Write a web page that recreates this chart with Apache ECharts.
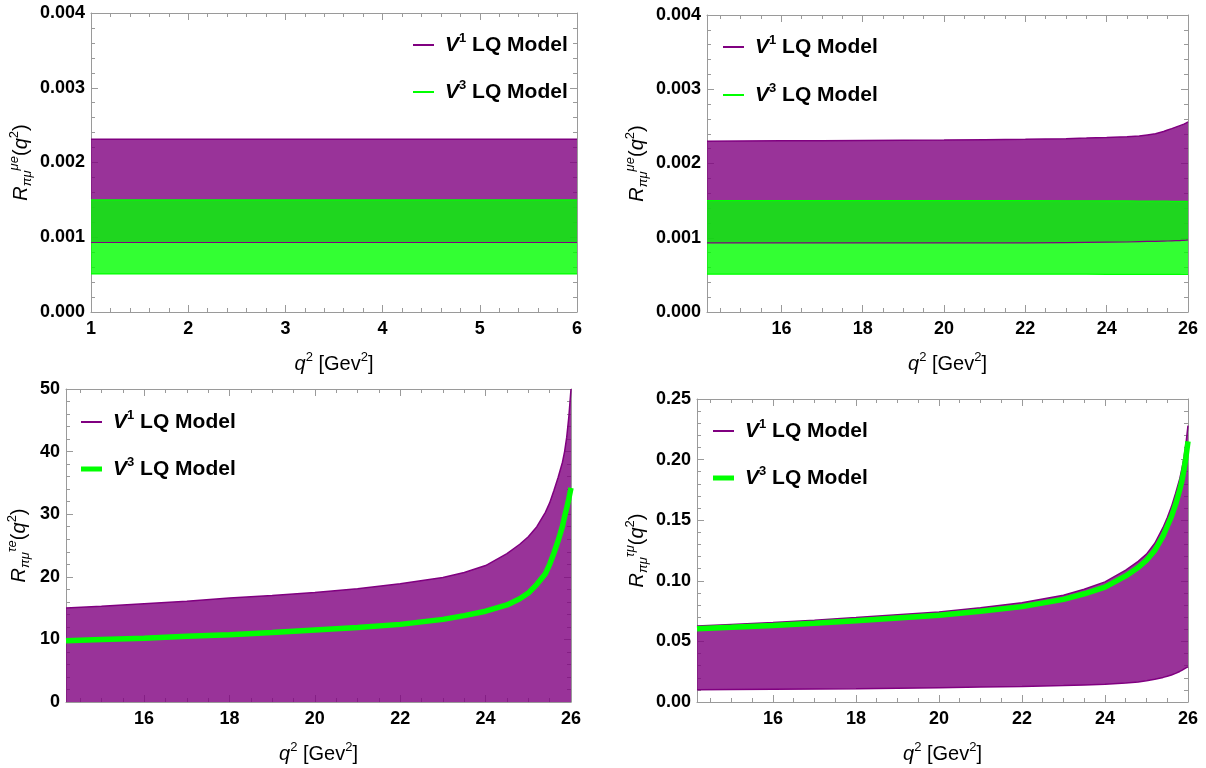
<!DOCTYPE html>
<html>
<head>
<meta charset="utf-8">
<script src="https://cdn.jsdelivr.net/npm/echarts@6/dist/echarts.min.js"></script>
<style>
  html, body { margin: 0; padding: 0; background: #fff; }
  #chart { width: 1206px; height: 768px; }
</style>
</head>
<body>
<div id="chart"></div>
<script>
// values
var qLow = [1, 2, 3, 4, 5, 6];
var muEaV1Lo = [0.00093, 0.00093, 0.00093, 0.00093, 0.00093, 0.00093];
var muEaV1Hi = [0.00231, 0.00231, 0.00231, 0.00231, 0.00231, 0.00231];
var muEaV3Lo = [0.00051, 0.00051, 0.00051, 0.00051, 0.00051, 0.00051];
var muEaV3Hi = [0.0015, 0.0015, 0.0015, 0.0015, 0.0015, 0.0015];

var qHigh = [14.17, 15, 16, 17, 18, 19, 20, 21, 22, 23, 23.5, 24, 24.5, 24.8, 25, 25.2, 25.4, 25.5, 25.6, 25.7, 25.8, 25.85, 25.9, 25.95, 26];
var muEbV1Lo = [0.00093, 0.00093, 0.00093, 0.00093, 0.00093, 0.00093, 0.00093, 0.000931, 0.000932, 0.000935, 0.000937, 0.00094, 0.000943, 0.000947, 0.00095, 0.000952, 0.000955, 0.000956, 0.000958, 0.00096, 0.000962, 0.000964, 0.000965, 0.000967, 0.00097];
var muEbV1Hi = [0.0023, 0.002302, 0.002305, 0.002307, 0.00231, 0.002312, 0.002315, 0.00232, 0.002325, 0.002335, 0.002342, 0.00235, 0.00236, 0.00237, 0.002385, 0.0024, 0.00243, 0.002451, 0.00247, 0.00249, 0.00251, 0.00252, 0.00253, 0.002545, 0.00256];
var muEbV3Lo = [0.00051, 0.00051, 0.00051, 0.00051, 0.00051, 0.00051, 0.00051, 0.00051, 0.00051, 0.000509, 0.000509, 0.000508, 0.000508, 0.000507, 0.000507, 0.000507, 0.000506, 0.000506, 0.000506, 0.000506, 0.000506, 0.000505, 0.000505, 0.000505, 0.000505];
var muEbV3Hi = [0.0015, 0.0015, 0.0015, 0.0015, 0.0015, 0.0015, 0.0015, 0.0015, 0.001499, 0.001498, 0.001498, 0.001497, 0.001496, 0.001495, 0.001494, 0.001493, 0.001492, 0.001492, 0.001491, 0.001491, 0.00149, 0.00149, 0.00149, 0.00149, 0.00149];

var tauEV1Hi = [15.0, 15.3, 15.7, 16.1, 16.6, 17.0, 17.5, 18.1, 18.9, 19.9, 20.7, 21.8, 23.7, 25.2, 26.4, 28.0, 30.3, 31.8, 33.8, 35.9, 38.3, 40.0, 42.3, 45.6, 50];
var tauEV3 = [9.8, 10.0, 10.2, 10.5, 10.75, 11.1, 11.5, 11.9, 12.4, 13.2, 13.8, 14.5, 15.5, 16.5, 17.4, 18.8, 20.5, 22.0, 23.8, 25.8, 28.1, 29.6, 31.0, 32.5, 34.2];

var tauMuV1Lo = [0.0102, 0.0104, 0.0106, 0.0108, 0.011, 0.0114, 0.0118, 0.0123, 0.0128, 0.0136, 0.0141, 0.0146, 0.0156, 0.0165, 0.0175, 0.0188, 0.0203, 0.0212, 0.0223, 0.0236, 0.0252, 0.0261, 0.0271, 0.0281, 0.029];
var tauMuV1Hi = [0.0628, 0.064, 0.0655, 0.0675, 0.0697, 0.072, 0.0743, 0.0778, 0.0818, 0.0881, 0.093, 0.0991, 0.1088, 0.116, 0.122, 0.131, 0.144, 0.152, 0.161, 0.172, 0.184, 0.192, 0.201, 0.213, 0.228];
var tauMuV3 = [0.0605, 0.0617, 0.0632, 0.065, 0.067, 0.0693, 0.0716, 0.0748, 0.0787, 0.0847, 0.0893, 0.0948, 0.104, 0.111, 0.117, 0.125, 0.137, 0.145, 0.153, 0.163, 0.175, 0.182, 0.191, 0.202, 0.215];

// tick labels
var xTicksLow = [1, 2, 3, 4, 5, 6];
var xTicksHigh = [16, 18, 20, 22, 24, 26];
var yTicksMuE = [0, 0.001, 0.002, 0.003, 0.004];
var yTicksTauE = [0, 10, 20, 30, 40, 50];
var yTicksTauMu = [0, 0.05, 0.1, 0.15, 0.2, 0.25];

var FONT = '"Liberation Sans", Arial, sans-serif';
var FRAME = '#9a9a9a';
var PURPLE = '#800080';
var GREEN = '#00ff00';

function minors(ticks, n, min, max) {
  var step = (ticks[1] - ticks[0]) / n, out = [];
  for (var v = ticks[0] - step; v > min + 1e-9; v -= step) out.push(+v.toFixed(6));
  for (var i = 0; i < ticks.length; i++) {
    for (var k = 1; k < n; k++) {
      var m = ticks[i] + k * step;
      if (m < max - 1e-9) out.push(+m.toFixed(6));
    }
  }
  return out;
}

var richAxis = {
  i: { fontFamily: FONT, fontSize: 20, fontStyle: 'italic', color: '#000', lineHeight: 26 },
  n: { fontFamily: FONT, fontSize: 20, color: '#000', lineHeight: 26 },
  sup: { fontFamily: FONT, fontSize: 13, color: '#000', verticalAlign: 'top', lineHeight: 14 },
  supi: { fontFamily: FONT, fontSize: 13, fontStyle: 'italic', color: '#000', verticalAlign: 'top', lineHeight: 14 },
  sub: { fontFamily: FONT, fontSize: 13, fontStyle: 'italic', color: '#000', verticalAlign: 'bottom', lineHeight: 14 }
};
var xName = '{i|q}{sup|2}{n| [Gev}{sup|2}{n|]}';
function yName(sup) { return '{i|R}{sub|πμ}{supi|' + sup + '}{n|(}{i|q}{sup|2}{n|)}'; }

var panels = [
  { grid: { left: 91, top: 13, width: 486, height: 299 }, xMin: 1, xMax: 6, xTicks: xTicksLow, xSplit: 5,
    yMin: 0, yMax: 0.004, yTicks: yTicksMuE, ySplit: 5, yDec: 3, yName: yName('μe'), yGap: 57 },
  { grid: { left: 707, top: 15, width: 481, height: 297 }, xMin: 14.17, xMax: 26, xTicks: xTicksHigh, xSplit: 4,
    yMin: 0, yMax: 0.004, yTicks: yTicksMuE, ySplit: 5, yDec: 3, yName: yName('μe'), yGap: 57 },
  { grid: { left: 66, top: 389, width: 505, height: 313 }, xMin: 14.17, xMax: 26, xTicks: xTicksHigh, xSplit: 4,
    yMin: 0, yMax: 50, yTicks: yTicksTauE, ySplit: 5, yDec: 0, yName: yName('τe'), yGap: 34 },
  { grid: { left: 697, top: 399, width: 491, height: 303 }, xMin: 14.17, xMax: 26, xTicks: xTicksHigh, xSplit: 4,
    yMin: 0, yMax: 0.25, yTicks: yTicksTauMu, ySplit: 5, yDec: 2, yName: yName('τμ'), yGap: 47 }
];

var tickLabel = { fontFamily: FONT, fontSize: 18, fontWeight: 'bold', color: '#000' };

function makeAxes(p, g, dim) {
  var isX = dim === 'x';
  var min = isX ? p.xMin : p.yMin, max = isX ? p.xMax : p.yMax;
  var major = isX ? p.xTicks : p.yTicks;
  var minor = minors(major, isX ? p.xSplit : p.ySplit, min, max);
  var sides = isX ? ['bottom', 'top'] : ['left', 'right'];
  var list = [];
  sides.forEach(function (side, s) {
    [major, minor].forEach(function (vals, m) {
      var ax = {
        type: 'value', gridIndex: g, position: side, min: min, max: max,
        splitLine: { show: false },
        axisLine: { show: m === 0, onZero: false, lineStyle: { color: FRAME, width: 1 } },
        axisTick: { show: true, inside: true, length: m === 0 ? 7 : 4, customValues: vals, lineStyle: { color: FRAME, width: 1 } },
        axisLabel: { show: false }
      };
      if (s === 0 && m === 0) {
        ax.axisLabel = Object.assign({ show: true, customValues: vals, margin: isX ? 8 : 6 }, tickLabel);
        if (!isX) {
          ax.axisLabel.formatter = function (v) { return v.toFixed(p.yDec); };
          ax.name = p.yName; ax.nameLocation = 'middle'; ax.nameGap = p.yGap; ax.nameRotate = 90;
        } else {
          ax.name = xName; ax.nameLocation = 'middle'; ax.nameGap = 39;
        }
        ax.nameTextStyle = { rich: richAxis };
      }
      list.push(ax);
    });
  });
  return list;
}

var grids = [], xAxes = [], yAxes = [];
panels.forEach(function (p, g) {
  grids.push(p.grid);
  xAxes = xAxes.concat(makeAxes(p, g, 'x'));
  yAxes = yAxes.concat(makeAxes(p, g, 'y'));
});

function pts(q, ys) { return q.map(function (x, i) { return [x, ys[i]]; }); }

// filled band between two curves, drawn as one polygon through the axes' coords
function bandFill(g, q, lo, hi, color) {
  return {
    type: 'custom', xAxisIndex: g * 4, yAxisIndex: g * 4, silent: true, clip: true,
    data: q.map(function (x, i) { return [x, lo[i], hi[i]]; }),
    encode: { x: 0, y: [1, 2] },
    renderItem: function (params, api) {
      if (params.dataIndex !== 0) return null;
      var up = [], down = [];
      for (var i = 0; i < q.length; i++) {
        up.push(api.coord([q[i], hi[i]]));
        down.unshift(api.coord([q[i], lo[i]]));
      }
      return { type: 'polygon', shape: { points: up.concat(down) }, style: { fill: color, opacity: 0.8 } };
    }
  };
}
function edge(name, g, q, ys, color, width, area) {
  var s = { type: 'line', name: name, xAxisIndex: g * 4, yAxisIndex: g * 4, data: pts(q, ys), symbol: 'none',
    silent: true, lineStyle: { color: color, width: width } };
  if (area) s.areaStyle = { color: color, opacity: 0.8 };
  return s;
}

var series = [
  bandFill(0, qLow, muEaV1Lo, muEaV1Hi, PURPLE),
  edge('V1', 0, qLow, muEaV1Hi, PURPLE, 1.5), edge('V1', 0, qLow, muEaV1Lo, PURPLE, 1.2),
  bandFill(0, qLow, muEaV3Lo, muEaV3Hi, GREEN),
  edge('V3', 0, qLow, muEaV3Hi, GREEN, 1.2), edge('V3', 0, qLow, muEaV3Lo, GREEN, 1.2),

  bandFill(1, qHigh, muEbV1Lo, muEbV1Hi, PURPLE),
  edge('V1', 1, qHigh, muEbV1Hi, PURPLE, 1.5), edge('V1', 1, qHigh, muEbV1Lo, PURPLE, 1.2),
  bandFill(1, qHigh, muEbV3Lo, muEbV3Hi, GREEN),
  edge('V3', 1, qHigh, muEbV3Hi, GREEN, 1.2), edge('V3', 1, qHigh, muEbV3Lo, GREEN, 1.2),

  edge('V1', 2, qHigh, tauEV1Hi, PURPLE, 1.5, true),
  edge('V3', 2, qHigh, tauEV3, GREEN, 5.5),

  bandFill(3, qHigh, tauMuV1Lo, tauMuV1Hi, PURPLE),
  edge('V1', 3, qHigh, tauMuV1Hi, PURPLE, 1.5), edge('V1', 3, qHigh, tauMuV1Lo, PURPLE, 1.5),
  edge('V3', 3, qHigh, tauMuV3, GREEN, 5.5)
];

var legendRich = {
  v: { fontFamily: FONT, fontSize: 21, fontWeight: 'bold', fontStyle: 'italic', color: '#000', lineHeight: 26 },
  s: { fontFamily: FONT, fontSize: 13, fontWeight: 'bold', color: '#000', verticalAlign: 'top', lineHeight: 14 },
  t: { fontFamily: FONT, fontSize: 21, fontWeight: 'bold', color: '#000', lineHeight: 26 },
  gap: { width: 6 }
};
function legendAt(name, color, left, centerY, thick) {
  return {
    data: [{ name: name, itemStyle: { color: color } }],
    left: left, top: centerY - 13, icon: 'rect', itemWidth: 21, itemHeight: thick,
    selectedMode: false,
    formatter: function (n) { return '{gap|}{v|V}{s|' + n.slice(1) + '}{t| LQ Model}'; },
    textStyle: { rich: legendRich }
  };
}
var legends = [
  legendAt('V1', PURPLE, 408, 40, 2), legendAt('V3', GREEN, 408, 87, 2),
  legendAt('V1', PURPLE, 718, 42, 2), legendAt('V3', GREEN, 718, 90, 2),
  legendAt('V1', PURPLE, 76, 417, 2), legendAt('V3', GREEN, 76, 464, 5),
  legendAt('V1', PURPLE, 708, 426, 2), legendAt('V3', GREEN, 708, 473, 5)
];

var chart = echarts.init(document.getElementById('chart'));
chart.setOption({
  animation: false,
  backgroundColor: '#fff',
  grid: grids,
  xAxis: xAxes,
  yAxis: yAxes,
  legend: legends,
  series: series
});
</script>
</body>
</html>
